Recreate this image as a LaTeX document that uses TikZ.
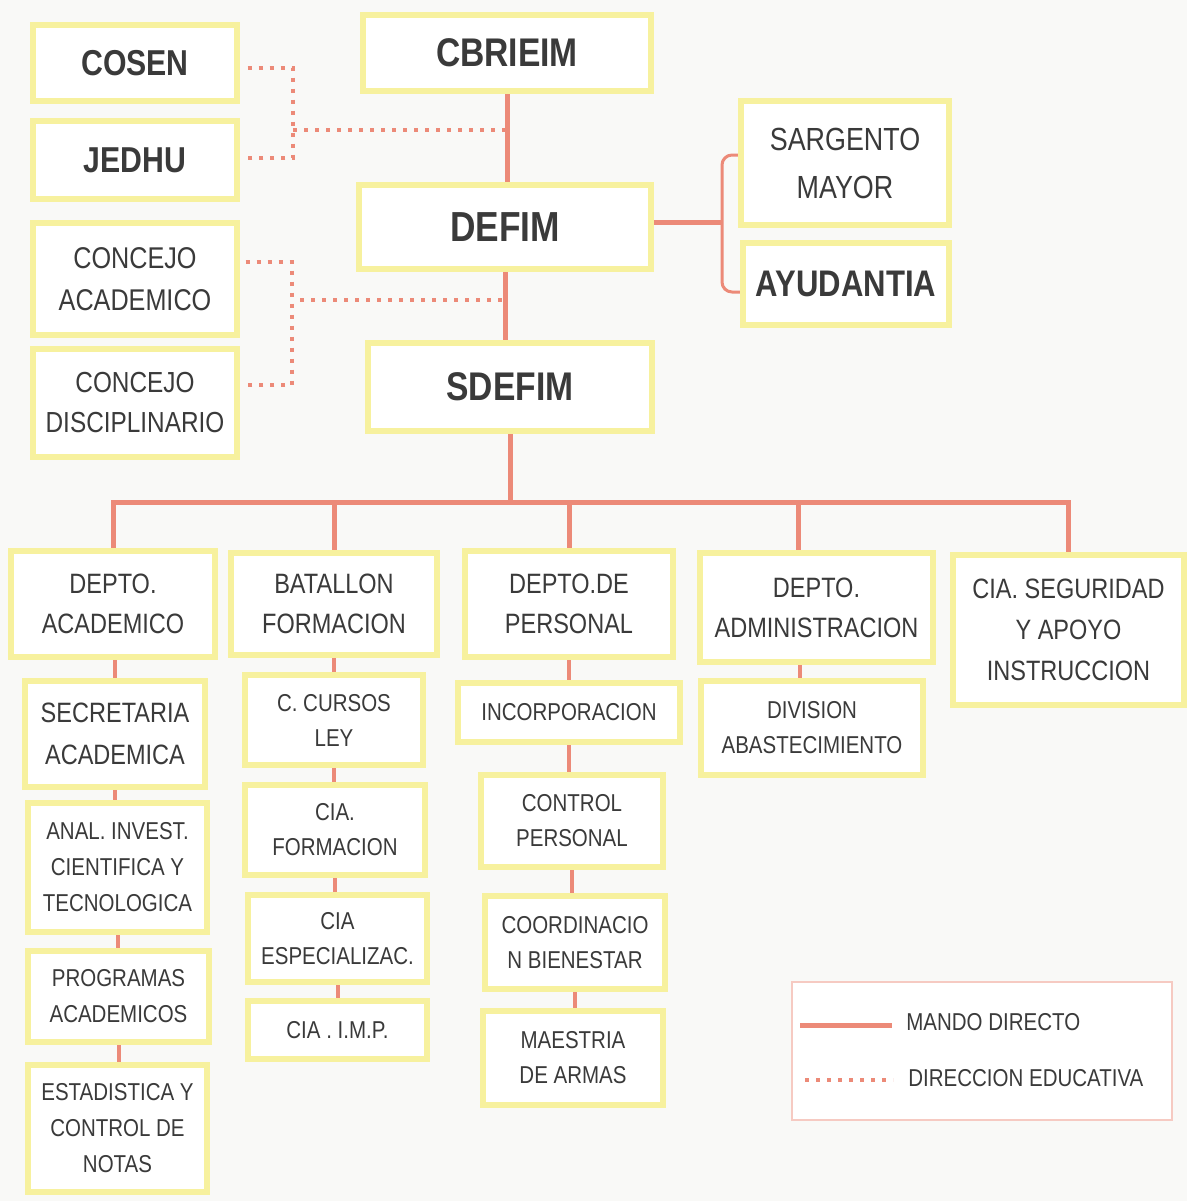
\documentclass[tikz,border=0pt]{standalone}
\usepackage{fontspec}
\setmainfont{Liberation Sans}[FakeStretch=0.84]
\usetikzlibrary{backgrounds}
\definecolor{ybord}{HTML}{F7F19E}
\definecolor{redl}{HTML}{EC8A78}
\definecolor{bgc}{HTML}{F9F9F7}
\definecolor{txt}{HTML}{3A3A3A}
\newcommand\fs[2]{\fontsize{#1}{#2}\selectfont}
\newcommand\bx[7]{\node[box,font={#7},minimum width={(#4-#2-6)*0.5pt},minimum height={(#5-#3-6)*0.5pt}] (#1) at ({(#2+#4)/2},{(#3+#5)/2}) {#6};}
\tikzset{
  box/.style={draw=ybord, line width=2.6pt, fill=white, align=center, inner sep=0pt, text=txt},
  mando/.style={draw=redl, line width=2.5pt},
  tick/.style={draw=redl, line width=2pt},
  brk/.style={draw=redl, line width=1.5pt, rounded corners=5pt},
  edu/.style={draw=redl, line width=2.2pt, dash pattern=on 2pt off 3.5pt},
  legbox/.style={draw=redl!45, line width=0.8pt, fill=white, inner sep=0pt},
  legtxt/.style={anchor=west, text=txt, font=\fs{12.2}{15}, inner sep=0pt}
}
\begin{document}
\begin{tikzpicture}[x=0.5pt,y=-0.5pt]
\useasboundingbox (0,0) rectangle (1187,1201);
% top
\bx{cosen}{30}{22}{240}{104}{COSEN}{\bfseries\fs{18}{20}}
\bx{jedhu}{30}{118}{240}{202}{JEDHU}{\bfseries\fs{18}{20}}
\bx{cacad}{30}{220}{240}{338}{CONCEJO\\ACADEMICO}{\fs{15}{21}}
\bx{cdisc}{30}{346}{240}{460}{CONCEJO\\DISCIPLINARIO}{\fs{14.5}{20}}
\bx{cbr}{360}{12}{654}{94}{CBRIEIM}{\bfseries\fs{20}{22}}
\bx{defim}{356}{182}{654}{272}{DEFIM}{\bfseries\fs{21}{23}}
\bx{sdefim}{365}{340}{655}{434}{SDEFIM}{\bfseries\fs{20}{22}}
\bx{sgt}{738}{98}{952}{228}{SARGENTO\\MAYOR}{\fs{16}{24}}
\bx{ayu}{740}{240}{952}{328}{AYUDANTIA}{\bfseries\fs{18.5}{20}}
% second row
\bx{dacad}{8}{548}{218}{660}{DEPTO.\\ACADEMICO}{\fs{14}{20}}
\bx{bat}{228}{550}{440}{658}{BATALLON\\FORMACION}{\fs{14}{20}}
\bx{dper}{462}{548}{676}{660}{DEPTO.DE\\PERSONAL}{\fs{14}{20}}
\bx{dadm}{697}{550}{936}{665}{DEPTO.\\ADMINISTRACION}{\fs{14}{20}}
\bx{cia}{950}{552}{1187}{708}{CIA. SEGURIDAD\\Y APOYO\\INSTRUCCION}{\fs{14}{20.5}}
% column 1
\bx{sec}{22}{678}{208}{790}{SECRETARIA\\ACADEMICA}{\fs{14}{21}}
\bx{anal}{25}{800}{210}{935}{ANAL. INVEST.\\CIENTIFICA Y\\TECNOLOGICA}{\fs{12.2}{18}}
\bx{prog}{25}{948}{212}{1045}{PROGRAMAS\\ACADEMICOS}{\fs{12.2}{18}}
\bx{est}{25}{1062}{210}{1195}{ESTADISTICA Y\\CONTROL DE\\NOTAS}{\fs{12.2}{18}}
% column 2
\bx{ccur}{242}{672}{426}{768}{C. CURSOS\\LEY}{\fs{12.2}{17.5}}
\bx{cform}{242}{782}{428}{878}{CIA.\\FORMACION}{\fs{12.2}{17.5}}
\bx{cesp}{245}{892}{430}{985}{CIA\\ESPECIALIZAC.}{\fs{12.2}{17.5}}
\bx{cimp}{245}{998}{430}{1062}{CIA . I.M.P.}{\fs{12.2}{17.5}}
% column 3
\bx{inc}{455}{680}{683}{745}{INCORPORACION}{\fs{12.2}{17.5}}
\bx{cper}{478}{772}{666}{870}{CONTROL\\PERSONAL}{\fs{12.2}{17.5}}
\bx{coord}{482}{893}{668}{992}{COORDINACIO\\N BIENESTAR}{\fs{12.2}{17.5}}
\bx{maes}{480}{1008}{666}{1108}{MAESTRIA\\DE ARMAS}{\fs{12.2}{17.5}}
% column 4
\bx{div}{698}{678}{926}{778}{DIVISION\\ABASTECIMIENTO}{\fs{12.2}{17.5}}
% legend
\node[legbox, minimum width={(1172-792)*0.5pt}, minimum height={(1120-982)*0.5pt}] (leg) at (982,1051) {};
\coordinate (l1a) at (800,1025);
\coordinate (l1b) at (892,1025);
\coordinate (l2a) at (805,1080);
\coordinate (l2b) at (893,1080);
\node[legtxt] (l1t) at (906,1022) {MANDO DIRECTO};
\node[legtxt] (l2t) at (908,1078) {DIRECCION EDUCATIVA};
\draw[mando] (l1a) -- (l1b);
\draw[edu] (l2a) -- (l2b);
% connectors
\begin{pgfonlayer}{background}
\fill[bgc] (0,0) rectangle (1187,1201);
\draw[mando] (cbr.south) -- (cbr.south |- defim.north);
\draw[mando] (defim.south) -- (defim.south |- sdefim.north);
\coordinate (bar) at (510,502);
\draw[mando] (sdefim.south) -- (sdefim.south |- bar);
\draw[mando] (dacad.north) -- (dacad.north |- bar) -- (cia.north |- bar) -- (cia.north);
\draw[mando] (bat.north) -- (bat.north |- bar);
\draw[mando] (dper.north) -- (dper.north |- bar);
\coordinate (admtop) at (798,550);
\draw[mando] (admtop) -- (admtop |- bar);
% bracket
\coordinate (bk) at (722,222);
\draw[mando] (defim.east |- bk) -- (bk);
\draw[brk] (sgt.west |- 0,155) -- (722,155) -- (722,292) -- (ayu.west |- 0,292);
% dotted direccion educativa
\coordinate (dj) at (293,130);
\draw[edu] ([xshift=4pt]cosen.east |- 0,68) -| (293,158) -- ([xshift=4pt]jedhu.east |- 0,158);
\draw[edu] (dj) -- (cbr.south |- dj);
\coordinate (dc) at (300,300);
\draw[edu] ([xshift=3pt]cacad.east |- 0,262) -| (292,385) -- ([xshift=3pt]cdisc.east |- 0,385);
\draw[edu] (dc) -- (defim.south |- dc);
% column ticks
\draw[tick] (sec.north |- dacad.south) -- (sec.north);
\draw[tick] (sec.south) -- (sec.south |- anal.north);
\draw[tick] (anal.south) -- (anal.south |- prog.north);
\draw[tick] (prog.south) -- (prog.south |- est.north);
\draw[tick] (ccur.north |- bat.south) -- (ccur.north);
\draw[tick] (ccur.south) -- (ccur.south |- cform.north);
\draw[tick] (cform.south) -- (cform.south |- cesp.north);
\draw[tick] (cesp.south) -- (cesp.south |- cimp.north);
\draw[tick] (inc.north |- dper.south) -- (inc.north);
\draw[tick] (inc.south) -- (inc.south |- cper.north);
\draw[tick] (cper.south) -- (cper.south |- coord.north);
\draw[tick] (coord.south) -- (coord.south |- maes.north);
\coordinate (divtop) at (800,678);
\draw[tick] (divtop |- dadm.south) -- (divtop);
\end{pgfonlayer}
\end{tikzpicture}
\end{document}
